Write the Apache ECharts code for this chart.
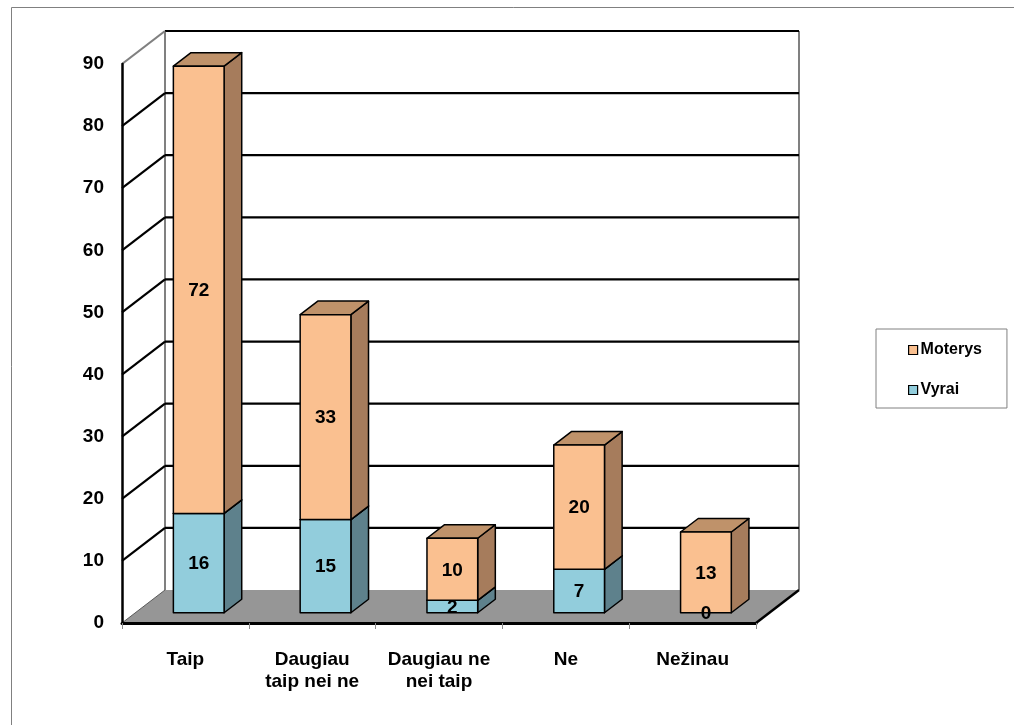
<!DOCTYPE html>
<html>
<head>
<meta charset="utf-8">
<style>
  html, body { margin: 0; padding: 0; background: #fff; }
  #chart { width: 1014px; height: 725px; }
</style>
<script src="https://cdn.jsdelivr.net/npm/echarts@6/dist/echarts.min.js"></script>
</head>
<body>
<div id="chart"></div>
<script>
// Survey answers, stacked by group
const categories = ['Taip', 'Daugiau\ntaip nei ne', 'Daugiau ne\nnei taip', 'Ne', 'Nežinau'];
const vyrai = [16, 15, 2, 7, 0];
const moterys = [72, 33, 10, 20, 13];
const yTicks = [0, 10, 20, 30, 40, 50, 60, 70, 80, 90];

// Pseudo-3D projection: full depth offset of the plot box in pixels
const DX = 43, DY = 33;
// Bars sit between these fractions of the depth
const D0 = 0.31, D1 = 0.72;
const BAR_FRAC = 0.4;

const FONT = 'Liberation Sans, Arial, sans-serif';

const colors = {
  Moterys: { front: '#FAC090', side: '#A67C5C', top: '#BF926A' },
  Vyrai: { front: '#92CDDC', side: '#5E818C', top: '#7FAAB6' }
};

function stackData(values, base) {
  return values.map((v, i) => [i, base ? base[i] : 0, (base ? base[i] : 0) + v, v]);
}

// Front face geometry of one stacked segment
function faceBox(api) {
  const cat = api.value(0), start = api.value(1), end = api.value(2);
  const p0 = api.coord([cat, start]);
  const p1 = api.coord([cat, end]);
  const w = api.size([1, 0])[0] * BAR_FRAC;
  return {
    fx: p0[0] + D0 * DX - w / 2,
    w: w,
    by: p0[1] - D0 * DY,
    ty: p1[1] - D0 * DY,
    empty: !(end > start)
  };
}

function barRender(name) {
  const c = colors[name];
  return function (params, api) {
    const b = faceBox(api);
    if (b.empty) return { type: 'group', children: [] };
    const fx = b.fx, w = b.w, by = b.by, ty = b.ty;
    const dx = (D1 - D0) * DX, dy = (D1 - D0) * DY;
    const stroke = { stroke: '#000', lineWidth: 1.5, lineJoin: 'round' };
    return {
      type: 'group',
      children: [
        {
          type: 'polygon',
          shape: { points: [[fx + w, ty], [fx + w + dx, ty - dy], [fx + w + dx, by - dy], [fx + w, by]] },
          style: Object.assign({ fill: c.side }, stroke)
        },
        {
          type: 'polygon',
          shape: { points: [[fx, ty], [fx + w, ty], [fx + w + dx, ty - dy], [fx + dx, ty - dy]] },
          style: Object.assign({ fill: c.top }, stroke)
        },
        {
          type: 'polygon',
          shape: { points: [[fx, ty], [fx + w, ty], [fx + w, by], [fx, by]] },
          style: Object.assign({ fill: c.front }, stroke)
        }
      ]
    };
  };
}

// Value labels centred on each segment's front face, drawn above all bars
function labelRender(params, api) {
  const b = faceBox(api);
  return {
    type: 'text',
    style: {
      text: String(api.value(3)),
      x: b.fx + b.w / 2,
      y: (b.ty + b.by) / 2 + 1,
      align: 'center',
      verticalAlign: 'middle',
      font: 'bold 19px ' + FONT,
      fill: '#000'
    }
  };
}

// Back wall gridlines and the left-wall diagonals for each value tick
function gridRender(params, api) {
  const v = api.value(0);
  const cs = params.coordSys;
  const y = api.coord([0, v])[1];
  const xl = cs.x, xr = cs.x + cs.width;
  const children = [];
  if (v > 0) {
    children.push({
      type: 'line',
      shape: { x1: xl + DX, y1: y - DY, x2: xr + DX, y2: y - DY },
      style: { stroke: '#000', lineWidth: 2.2 }
    });
    const top = v === yTicks[yTicks.length - 1];
    children.push({
      type: 'line',
      shape: { x1: xl, y1: y, x2: xl + DX, y2: y - DY },
      style: { stroke: top ? '#808080' : '#000', lineWidth: 2.2 }
    });
  }
  return { type: 'group', children: children };
}

// Floor slab and back wall side edges
function wallRender(params, api) {
  const cs = params.coordSys;
  const xl = cs.x, xr = cs.x + cs.width;
  const y0 = api.coord([0, yTicks[0]])[1];
  const yTop = api.coord([0, yTicks[yTicks.length - 1]])[1];
  return {
    type: 'group',
    children: [
      { type: 'line', shape: { x1: xl + DX, y1: y0 - DY, x2: xl + DX, y2: yTop - DY }, style: { stroke: '#808080', lineWidth: 2 } },
      { type: 'line', shape: { x1: xr + DX, y1: y0 - DY, x2: xr + DX, y2: yTop - DY }, style: { stroke: '#808080', lineWidth: 2 } },
      { type: 'polygon', shape: { points: [[xl, y0], [xr, y0], [xr + DX, y0 - DY], [xl + DX, y0 - DY]] }, style: { fill: '#969696' } },
      { type: 'line', shape: { x1: xl, y1: y0, x2: xl + DX, y2: y0 - DY }, style: { stroke: '#5a5a5a', lineWidth: 1 } },
      { type: 'line', shape: { x1: xr, y1: y0, x2: xr + DX, y2: y0 - DY }, style: { stroke: '#000', lineWidth: 2.5 } }
    ]
  };
}

const vyraiData = stackData(vyrai);
const moterysData = stackData(moterys, vyrai);

const chart = echarts.init(document.getElementById('chart'));
chart.setOption({
  animation: false,
  backgroundColor: '#fff',
  graphic: [{
    type: 'rect',
    shape: { x: 11.5, y: 7.5, width: 1100, height: 800 },
    style: { fill: 'none', stroke: '#808080', lineWidth: 1 },
    z: -1
  }],
  grid: { left: 122, right: 258, top: 64, bottom: 102 },
  legend: {
    data: ['Moterys', 'Vyrai'],
    orient: 'vertical',
    left: 876, top: 329,
    padding: [13, 25, 10, 32],
    itemWidth: 9, itemHeight: 9,
    itemGap: 24,
    icon: 'rect',
    borderColor: '#808080', borderWidth: 1,
    itemStyle: { borderColor: '#000', borderWidth: 1.2 },
    textStyle: { fontFamily: FONT, fontWeight: 'bold', fontSize: 16, lineHeight: 16, color: '#000', padding: [0, 0, 0, -2] }
  },
  xAxis: {
    type: 'category',
    data: categories,
    z: 5,
    axisLine: { lineStyle: { color: '#000', width: 3 } },
    axisTick: { show: true, length: 6, interval: 0, lineStyle: { color: '#8a8a8a', width: 1 } },
    axisLabel: { interval: 0, margin: 26, fontFamily: FONT, fontWeight: 'bold', fontSize: 19, lineHeight: 22, color: '#000' },
    splitLine: { show: false }
  },
  yAxis: {
    type: 'value',
    min: 0, max: 90, interval: 10,
    z: 5,
    axisLine: { show: true, lineStyle: { color: '#000', width: 2.5 } },
    axisTick: { show: false },
    axisLabel: { margin: 18, fontFamily: FONT, fontWeight: 'bold', fontSize: 19, color: '#000' },
    splitLine: { show: false }
  },
  series: [
    { type: 'custom', name: 'walls', silent: true, z: 1, clip: false, renderItem: wallRender, data: [[0]] },
    { type: 'custom', name: 'grid', silent: true, z: 1, clip: false, renderItem: gridRender, data: yTicks.map(v => [v]) },
    {
      type: 'custom', name: 'Vyrai', z: 2, clip: false,
      itemStyle: { color: colors.Vyrai.front },
      renderItem: barRender('Vyrai'),
      encode: { x: 0, y: [1, 2] },
      data: vyraiData
    },
    {
      type: 'custom', name: 'Moterys', z: 3, clip: false,
      itemStyle: { color: colors.Moterys.front },
      renderItem: barRender('Moterys'),
      encode: { x: 0, y: [1, 2] },
      data: moterysData
    },
    { type: 'custom', name: 'Vyrai labels', silent: true, z: 4, clip: false, renderItem: labelRender, encode: { x: 0, y: [1, 2] }, data: vyraiData },
    { type: 'custom', name: 'Moterys labels', silent: true, z: 4, clip: false, renderItem: labelRender, encode: { x: 0, y: [1, 2] }, data: moterysData }
  ]
});
</script>
</body>
</html>
